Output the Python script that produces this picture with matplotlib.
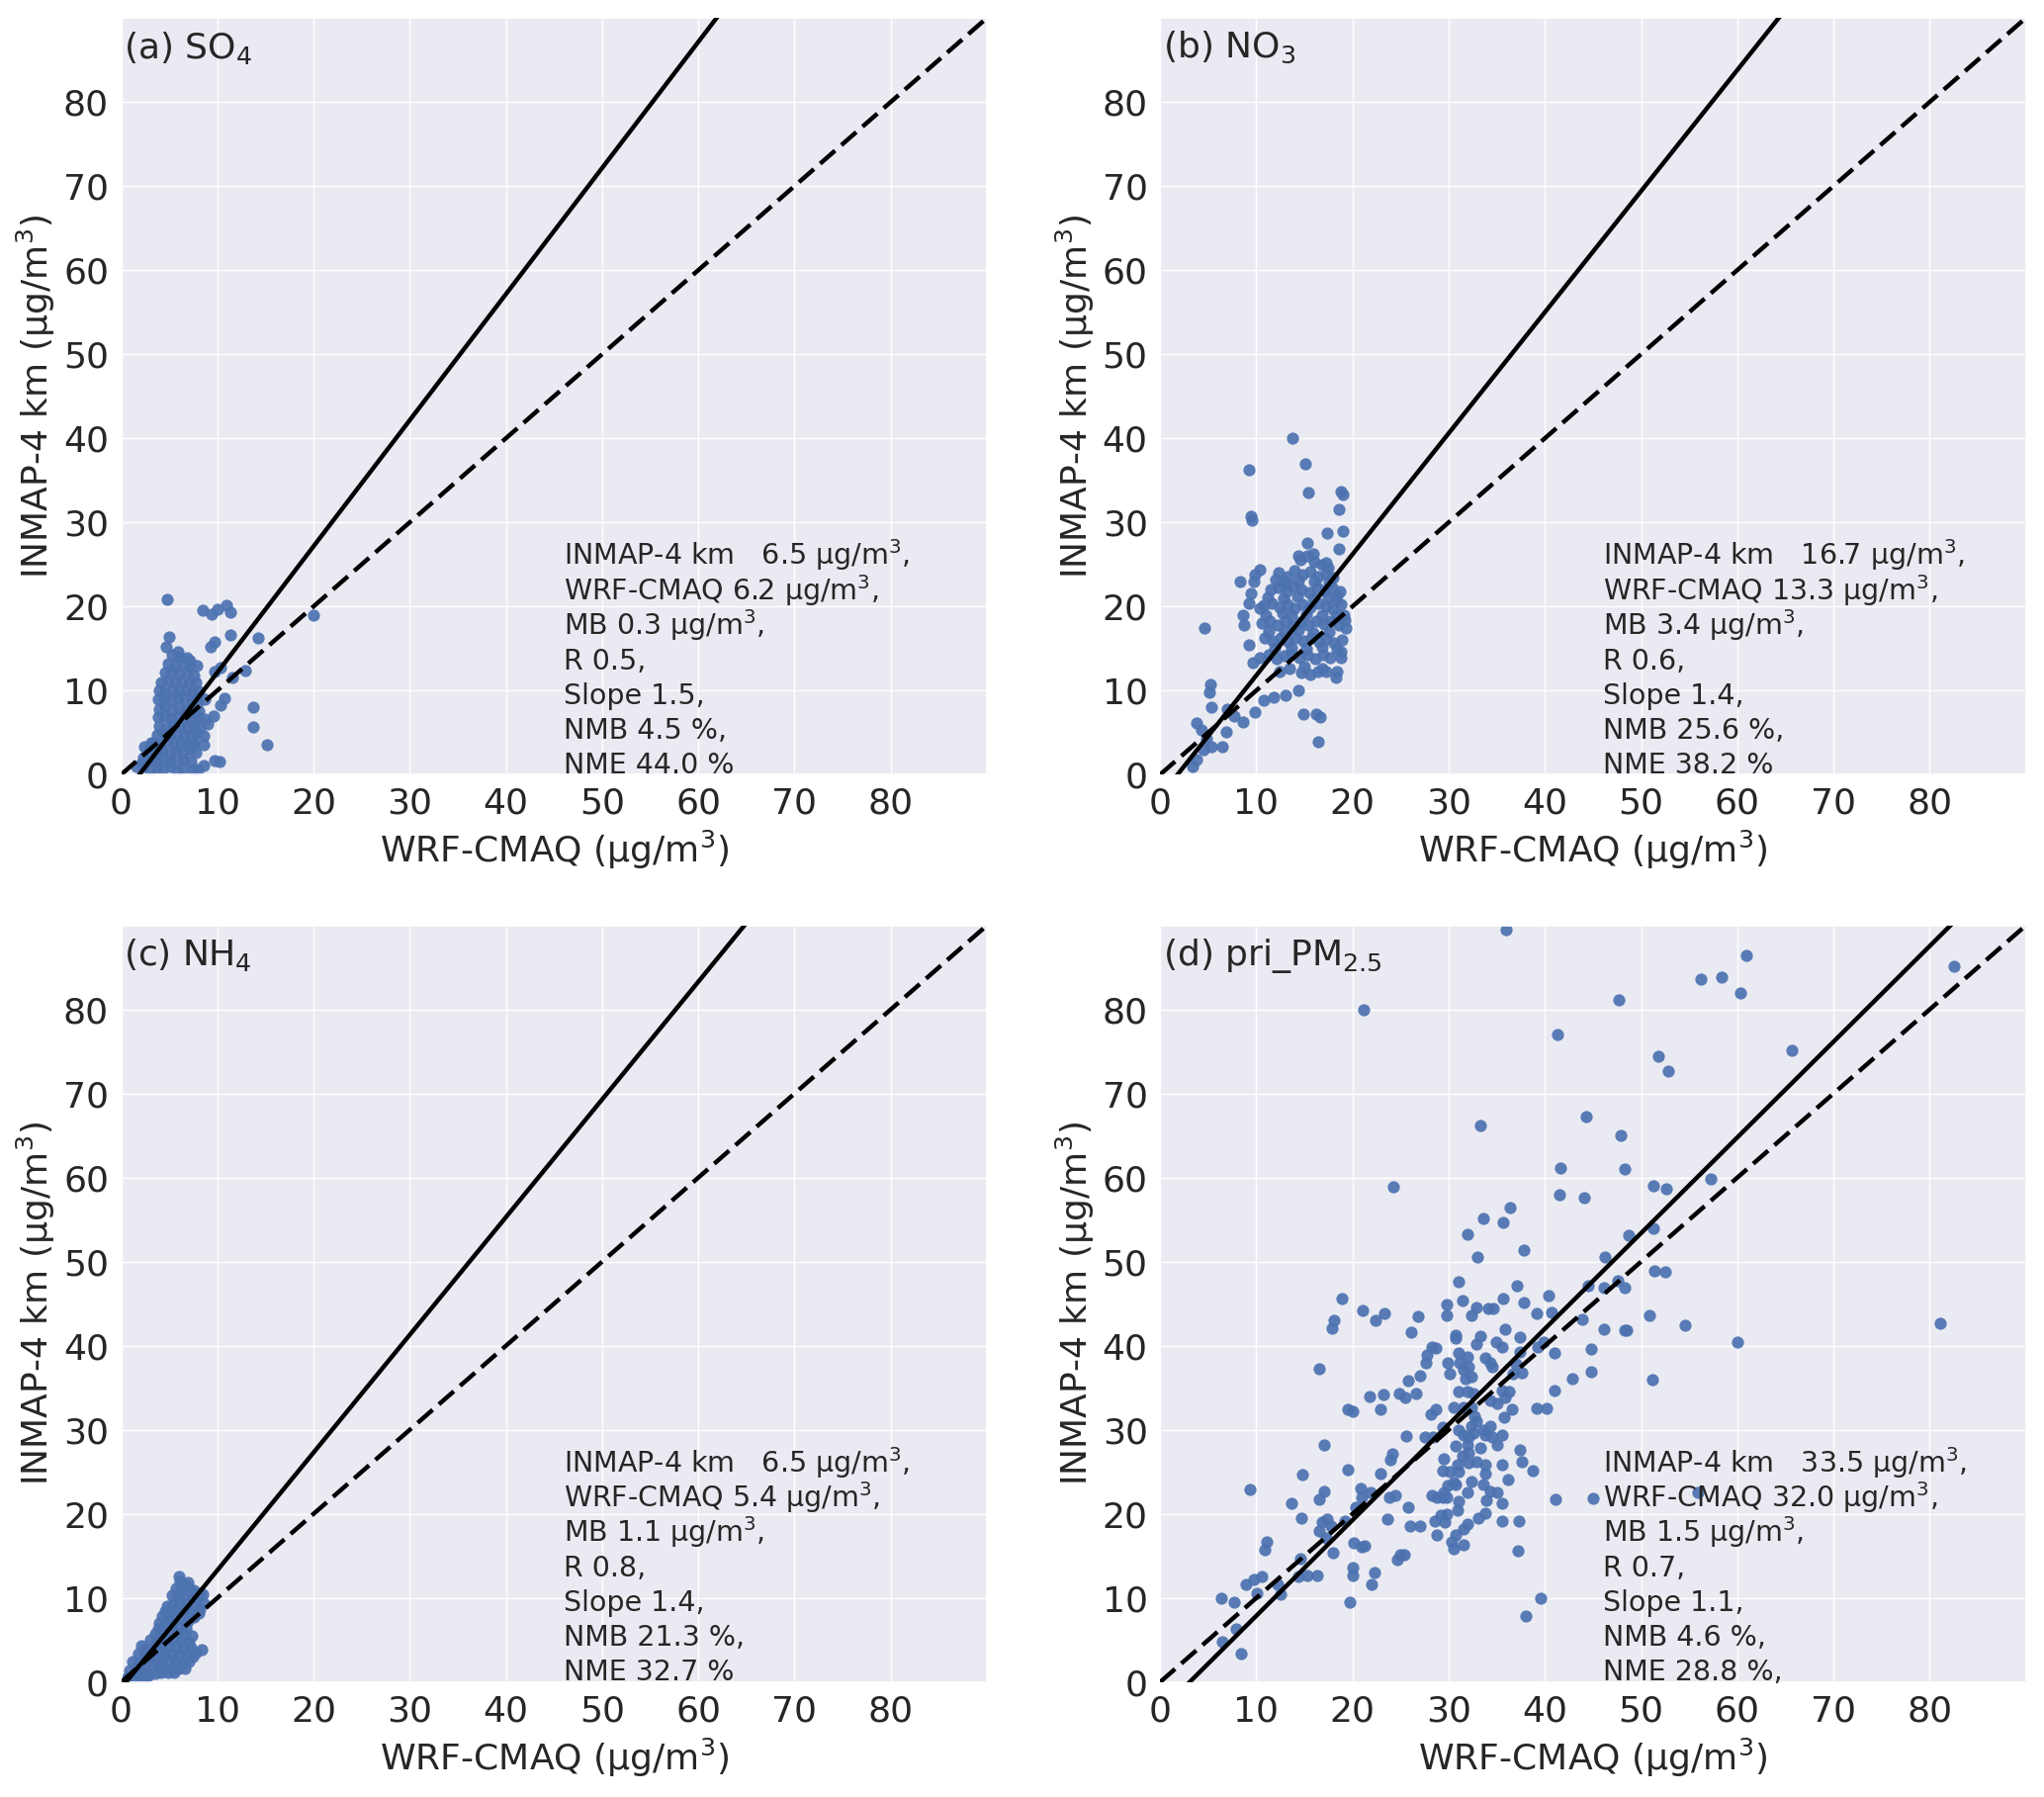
import matplotlib
matplotlib.use("Agg")
import matplotlib.pyplot as plt
import seaborn as sns

# ---------------- data ----------------
panel_titles = ["(a) SO$_4$", "(b) NO$_3$", "(c) NH$_4$", "(d) pri_PM$_{2.5}$"]
xlabel = "WRF-CMAQ (µg/m$^3$)"
ylabel = "INMAP-4 km (µg/m$^3$)"
ticks = [0, 10, 20, 30, 40, 50, 60, 70, 80]

# fitted regression lines (slope, intercept)
fit_slope = [1.50, 1.44, 1.40, 1.138]
fit_intercept = [-2.85, -2.6, -0.7, -3.5]

# statistics
inmap_mean = ["6.5", "16.7", "6.5", "33.5"]
cmaq_mean = ["6.2", "13.3", "5.4", "32.0"]
mb_vals = ["0.3", "3.4", "1.1", "1.5"]
r_vals = ["0.5", "0.6", "0.8", "0.7"]
slope_txt = ["1.5", "1.4", "1.4", "1.1"]
nmb_vals = ["4.5", "25.6", "21.3", "4.6"]
nme_vals = ["44.0", "38.2", "32.7", "28.8"]
nme_tail = ["", "", "", ","]

so4_pts = [
    (4.8, 20.8), (8.5, 19.5), (9.4, 19.1), (10.0, 19.7), (10.9, 20.1), (11.4, 19.3), (20.0, 18.9),
    (5.0, 16.4), (11.4, 16.6), (14.2, 16.2), (9.7, 15.8), (9.3, 15.2), (4.7, 15.2), (5.9, 14.6),
    (7.1, 13.6), (7.9, 12.9), (12.9, 12.4), (10.3, 12.7), (9.7, 12.2), (11.6, 11.5), (10.7, 9.1),
    (10.3, 8.2), (13.7, 8.0), (13.7, 5.7), (15.2, 3.5), (9.6, 7.0), (9.0, 6.0), (8.6, 4.6),
    (8.6, 3.6), (7.6, 3.5), (9.7, 1.7), (10.2, 1.6), (8.6, 1.1), (6.4, 0.7), (7.4, 0.6),
    (2.4, 3.3), (3.1, 3.8), (2.1, 1.3),
    (5.3, 14.3), (6.0, 14.0), (6.8, 13.9),
    (4.9, 13.2), (5.6, 13.0), (6.4, 13.3), (7.1, 12.9),
    (4.6, 12.1), (5.3, 12.3), (6.0, 12.0), (6.8, 12.1), (7.5, 11.8),
    (4.2, 11.0), (4.9, 11.2), (5.6, 10.9), (6.3, 11.1), (7.0, 10.8), (7.8, 10.9),
    (3.9, 10.0), (4.6, 9.8), (5.3, 10.1), (6.0, 9.9), (6.7, 10.0), (7.4, 9.7), (8.1, 9.9),
    (3.8, 8.9), (4.5, 9.0), (5.2, 8.8), (5.9, 9.1), (6.6, 8.9), (7.3, 8.8), (8.0, 8.6), (8.7, 8.9),
    (3.9, 7.8), (4.6, 8.0), (5.3, 7.7), (6.0, 7.9), (6.7, 7.7), (7.4, 7.9), (8.1, 7.6),
    (3.8, 6.8), (4.5, 6.9), (5.2, 6.6), (5.9, 6.8), (6.6, 6.7), (7.3, 6.5), (8.0, 6.8), (8.7, 6.6),
    (4.0, 5.8), (4.7, 5.6), (5.4, 5.9), (6.1, 5.7), (6.8, 5.6), (7.5, 5.8), (8.2, 5.5),
    (3.7, 4.7), (4.4, 4.9), (5.1, 4.6), (5.8, 4.8), (6.5, 4.5), (7.2, 4.7), (7.9, 4.9),
    (3.4, 3.8), (4.1, 3.6), (4.8, 3.9), (5.5, 3.6), (6.2, 3.8), (6.9, 3.5), (7.6, 3.8),
    (2.9, 2.9), (3.6, 2.6), (4.3, 2.8), (5.0, 2.5), (5.7, 2.8), (6.4, 2.6), (7.1, 2.9), (7.8, 2.6),
    (2.3, 2.0), (3.0, 1.8), (3.7, 1.6), (4.4, 1.9), (5.1, 1.7), (5.8, 1.5), (6.5, 1.8), (7.2, 1.6),
    (1.6, 1.0), (2.3, 0.9), (3.0, 0.6), (3.7, 0.8), (4.4, 0.7), (5.1, 0.9), (5.8, 0.5), (8.0, 0.6),
]

no3_pts = [
    (13.8, 40.0), (9.2, 36.3), (15.1, 36.9), (15.4, 33.6), (18.8, 33.7), (19.0, 33.3), (18.6, 31.5),
    (9.4, 30.7), (9.5, 30.2), (17.4, 28.7), (19.0, 28.9), (18.6, 26.8), (15.3, 27.5), (14.4, 26.0),
    (15.9, 26.2), (17.3, 25.2), (10.4, 24.4), (9.8, 23.8), (9.7, 23.0), (8.3, 22.9), (12.0, 23.2),
    (13.0, 22.7), (9.4, 21.5), (9.2, 20.4), (10.4, 19.8), (8.6, 18.9), (8.7, 17.8), (4.6, 17.4),
    (18.4, 21.3), (19.1, 18.9), (19.3, 17.4), (9.2, 15.4), (9.6, 13.3), (10.4, 13.9), (18.8, 14.6),
    (18.8, 13.9), (18.4, 12.3), (18.3, 11.5), (14.7, 12.1), (15.6, 11.9), (16.4, 12.3), (17.3, 12.3),
    (14.4, 10.0), (13.0, 9.4), (11.8, 9.2), (10.8, 8.8), (9.8, 7.4), (14.9, 7.2), (16.2, 7.2),
    (16.6, 6.8), (16.4, 3.9), (5.2, 10.7), (5.1, 9.8), (5.3, 8.0), (7.0, 7.8), (7.7, 7.0), (8.6, 6.3),
    (6.9, 5.1), (3.8, 6.1), (4.3, 5.3), (4.8, 4.3), (5.3, 3.3), (6.5, 3.3), (3.4, 1.0), (3.8, 1.8),
    (4.5, 2.9),
    (14.6, 25.5), (15.3, 26.0), (16.0, 25.3), (16.8, 25.0), (17.5, 24.6),
    (12.3, 24.0), (13.2, 23.5), (14.0, 24.2), (14.8, 23.8), (15.6, 24.1), (16.4, 23.6), (17.2, 23.9), (18.0, 23.4),
    (12.7, 23.0), (14.4, 23.1), (16.0, 22.9), (17.6, 22.8),
    (11.5, 22.0), (12.3, 22.3), (13.1, 21.8), (13.9, 22.4), (14.7, 22.0), (15.5, 21.7), (16.3, 22.2),
    (17.1, 21.9), (17.9, 22.3), (18.7, 21.8),
    (11.2, 21.1), (12.8, 20.9), (14.3, 21.2), (15.9, 20.9), (17.5, 21.1), (18.3, 20.8),
    (10.8, 20.1), (11.6, 20.4), (12.4, 19.9), (13.2, 20.3), (14.0, 19.8), (14.8, 20.2), (15.6, 19.9),
    (16.4, 20.4), (17.2, 20.0), (18.0, 19.7), (18.8, 20.2),
    (11.0, 19.0), (12.7, 19.2), (13.6, 18.9), (15.2, 19.1), (16.8, 18.9), (18.4, 19.0),
    (10.6, 18.0), (11.4, 18.3), (12.2, 17.8), (13.0, 18.2), (13.8, 17.7), (14.6, 18.1), (15.4, 17.8),
    (16.2, 18.3), (17.0, 17.9), (17.8, 18.2), (18.6, 17.8), (19.2, 18.4),
    (11.3, 17.1), (12.9, 16.9), (14.4, 17.2), (15.9, 16.8), (17.6, 17.0),
    (10.9, 16.2), (11.7, 15.9), (12.5, 16.3), (13.3, 15.8), (14.1, 16.2), (14.9, 15.9), (15.7, 16.3),
    (16.5, 15.8), (17.3, 16.1), (18.1, 15.7), (18.9, 16.0),
    (11.9, 15.0), (13.6, 15.1), (15.2, 14.9), (16.8, 15.2), (18.4, 14.9),
    (11.3, 14.2), (12.1, 13.8), (12.9, 14.1), (13.7, 14.4), (14.5, 13.9), (15.3, 14.2), (16.1, 13.8),
    (16.9, 14.3), (17.7, 13.9),
    (12.4, 12.3), (13.4, 12.6), (15.0, 12.8), (16.8, 12.6),
]

nh4_pts = [
    (6.0, 12.5), (6.1, 12.0), (6.5, 11.6), (6.9, 11.8), (5.7, 11.2), (6.3, 11.0), (7.0, 11.2), (7.6, 10.9),
    (8.2, 10.6), (8.5, 10.4), (5.3, 10.3), (5.9, 10.2), (6.6, 10.4), (7.3, 10.2), (8.0, 9.8), (8.6, 9.4),
    (4.8, 9.0), (5.4, 9.3), (6.1, 9.5), (6.8, 9.3), (7.5, 9.0), (8.2, 8.7), (4.6, 8.4), (5.1, 8.5),
    (5.8, 8.7), (6.5, 8.6), (7.2, 8.2), (8.1, 8.2), (4.3, 7.8), (4.9, 7.6), (5.6, 7.9), (6.2, 7.5),
    (6.9, 7.3), (7.6, 7.7), (4.0, 7.0), (4.6, 6.9), (5.3, 6.8), (6.0, 6.6), (6.7, 6.4), (3.8, 6.3),
    (4.4, 6.1), (5.1, 6.0), (5.8, 5.8), (6.5, 5.6), (7.3, 5.5), (3.5, 5.7), (4.1, 5.4), (4.8, 5.2),
    (5.5, 5.0), (6.2, 4.9), (7.0, 4.7), (3.0, 5.0), (3.6, 4.7), (4.3, 4.5), (5.0, 4.3), (5.7, 4.2),
    (6.4, 4.0), (7.2, 4.1), (7.8, 3.5), (8.4, 3.8), (2.1, 4.3), (2.6, 4.0), (3.2, 3.8), (3.9, 3.6),
    (4.6, 3.4), (5.3, 3.3), (6.0, 3.1), (6.7, 3.1), (7.4, 3.0), (1.8, 3.4), (2.4, 3.1), (3.0, 2.9),
    (3.6, 2.7), (4.3, 2.6), (5.0, 2.4), (5.7, 2.3), (6.4, 2.2), (7.0, 2.4), (1.2, 2.4), (1.8, 2.2),
    (2.5, 2.0), (3.2, 1.9), (3.9, 1.8), (4.6, 1.6), (5.3, 1.5), (6.0, 1.6), (6.6, 1.6), (0.9, 1.4),
    (1.5, 1.3), (2.2, 1.1), (2.8, 0.8), (3.5, 1.0), (4.2, 1.1), (4.9, 1.2), (5.5, 1.2), (0.7, 0.6),
    (1.3, 0.5), (1.8, 0.8), (2.4, 0.4),
]

pm_pts = [
    (6.4, 10.0), (7.7, 9.5), (7.9, 6.3), (6.5, 4.8), (8.4, 3.4), (8.9, 11.6), (9.7, 12.2), (10.6, 12.5),
    (10.1, 10.6), (12.2, 11.6), (12.5, 10.4), (10.9, 15.7), (11.1, 16.7), (9.3, 22.9), (13.6, 21.3),
    (14.7, 19.5), (14.8, 24.7), (14.6, 14.7), (14.4, 12.5), (15.3, 12.7), (16.3, 12.7), (16.5, 18.0),
    (16.8, 19.0), (17.4, 19.4), (17.8, 18.6), (17.2, 17.1), (16.5, 21.7), (17.0, 22.7), (18.0, 15.4),
    (16.5, 37.3), (17.0, 28.2), (17.9, 42.1), (18.1, 43.0), (18.9, 45.6), (19.2, 19.1), (19.5, 25.3),
    (19.5, 32.4), (20.0, 32.2), (19.7, 9.5), (20.0, 13.6), (20.0, 12.7), (20.1, 16.5), (20.9, 16.1),
    (21.3, 16.2), (20.3, 20.8), (20.8, 23.0), (20.9, 22.0), (21.1, 44.2), (21.8, 34.0), (22.0, 11.6),
    (22.3, 13.0), (21.9, 22.5), (22.4, 43.0), (23.3, 43.8), (22.9, 32.4), (23.2, 34.2), (22.9, 24.8),
    (23.6, 19.4), (23.8, 22.0), (23.9, 26.4), (24.1, 27.2), (24.4, 22.2), (24.7, 14.5), (25.0, 15.1),
    (25.4, 15.1), (24.9, 34.3), (25.5, 33.9), (25.8, 35.9), (25.6, 29.3), (25.8, 20.8), (26.0, 18.5),
    (27.0, 18.5), (26.1, 41.6), (26.6, 34.3), (26.8, 43.5), (27.0, 36.4), (27.5, 29.1), (27.6, 38.0),
    (27.7, 38.9), (28.2, 39.8), (28.7, 39.7), (28.1, 31.8), (28.7, 32.4), (28.4, 29.1), (28.2, 22.2),
    (28.8, 22.0), (28.8, 17.5), (28.6, 19.2), (29.2, 19.8), (29.6, 19.0), (29.8, 20.0), (29.4, 22.0),
    (29.8, 22.0), (29.5, 22.6), (29.9, 23.4), (30.7, 23.5), (29.5, 26.5), (29.4, 25.2), (30.1, 25.0),
    (29.4, 30.3), (29.8, 44.9), (29.8, 43.6), (30.7, 41.3), (30.7, 40.9), (31.0, 47.6), (31.4, 45.4),
    (29.9, 38.0), (30.1, 36.7), (31.0, 39.2), (31.1, 38.0), (31.9, 38.7), (31.5, 37.1), (32.1, 37.5),
    (31.7, 36.1), (32.4, 36.3), (31.0, 34.6), (31.9, 34.6), (32.6, 34.3), (30.5, 32.7), (31.5, 32.7),
    (32.4, 32.7), (32.7, 31.6), (32.9, 31.0), (32.4, 30.4), (31.0, 30.0), (31.5, 29.4), (32.1, 29.2),
    (32.6, 29.6), (33.6, 30.0), (34.3, 30.4), (33.8, 29.4), (34.5, 29.2), (35.5, 29.4), (30.7, 28.1),
    (31.9, 28.2), (33.3, 27.9), (35.0, 28.2), (31.4, 26.9), (32.1, 27.3), (32.1, 26.1), (32.9, 26.2),
    (33.8, 25.8), (33.8, 24.8), (35.6, 25.9), (36.2, 24.1), (30.9, 25.9), (31.0, 25.0), (30.5, 23.7),
    (32.4, 23.9), (31.9, 22.5), (33.6, 23.5), (34.3, 22.7), (35.0, 22.5), (33.9, 21.6), (35.6, 21.3),
    (31.0, 21.5), (30.9, 20.4), (33.8, 20.1), (33.1, 19.5), (31.9, 18.8), (31.5, 18.2), (35.5, 19.1),
    (37.3, 19.2), (30.7, 17.5), (30.3, 16.7), (30.5, 15.9), (31.5, 16.3), (37.2, 15.6), (39.6, 10.0),
    (38.0, 7.9), (37.4, 27.6), (37.6, 26.2), (38.7, 25.2), (35.8, 31.5), (36.6, 32.4), (35.0, 33.1),
    (35.9, 33.9), (36.3, 34.6), (35.5, 34.7), (34.3, 33.5), (34.5, 37.5), (34.3, 38.0), (33.8, 38.6),
    (34.9, 40.4), (35.6, 39.9), (33.3, 41.1), (32.9, 40.2), (35.9, 42.0), (37.4, 41.0), (37.4, 39.3),
    (37.6, 36.8), (37.0, 37.8), (36.7, 36.7), (32.4, 43.6), (32.9, 44.6), (34.1, 44.4), (34.6, 44.4),
    (35.7, 45.6), (37.1, 47.1), (37.8, 45.1), (39.1, 43.9), (40.4, 46.0), (40.7, 44.0), (41.0, 39.2),
    (41.0, 34.7), (39.1, 32.5), (40.2, 32.6), (39.9, 40.4), (39.2, 39.8), (41.1, 21.7), (45.0, 21.8),
    (42.9, 36.1), (44.8, 36.9), (44.8, 39.6), (46.1, 42.0), (43.9, 43.2), (44.5, 47.1), (46.1, 46.9),
    (47.6, 47.7), (48.3, 46.9), (48.3, 41.8), (48.5, 41.9), (50.9, 43.6), (51.2, 36.0), (51.4, 48.9),
    (36.0, 89.5), (21.2, 80.0), (47.7, 81.1), (56.2, 83.6), (58.4, 83.8), (60.3, 82.0), (60.9, 86.5),
    (82.5, 85.1), (65.7, 75.2), (51.8, 74.4), (52.8, 72.7), (41.3, 77.0), (33.3, 66.2), (44.3, 67.3),
    (47.9, 65.0), (48.3, 61.0), (41.6, 61.2), (41.5, 58.0), (44.1, 57.6), (24.2, 58.9), (51.3, 59.0),
    (52.6, 58.7), (57.2, 59.8), (36.4, 56.4), (35.7, 54.7), (33.6, 55.2), (32.0, 53.3), (33.0, 50.5),
    (37.8, 51.4), (48.7, 53.2), (51.3, 54.0), (46.2, 50.6), (52.5, 48.8), (81.1, 42.7), (54.6, 42.4),
    (60.0, 40.4), (55.9, 22.6),
]

all_pts = [so4_pts, no3_pts, nh4_pts, pm_pts]

# ---------------- figure ----------------
sns.set_theme(style="darkgrid")
plt.rcParams['font.family'] = ['DejaVu Sans']

fig = plt.figure(figsize=(20.67, 18.17), dpi=100)
lefts = [0.0593, 0.5676, 0.0593, 0.5676]
bottoms = [0.569, 0.569, 0.064, 0.064]
W, H = 0.4235, 0.421

for i in range(4):
    ax = fig.add_axes([lefts[i], bottoms[i], W, H])
    xs = [p[0] for p in all_pts[i]]
    ys = [p[1] for p in all_pts[i]]
    ax.scatter(xs, ys, s=78, color="#4C72B0", alpha=0.92, linewidths=0, zorder=2)
    lx = [0, 90]
    ax.plot(lx, [fit_slope[i] * v + fit_intercept[i] for v in lx], color="black", lw=3.2, zorder=3)
    ax.plot(lx, lx, color="black", lw=3.2, ls=(0, (4.5, 1.9)), zorder=3)
    ax.set_xlim(0, 90)
    ax.set_ylim(0, 90)
    ax.set_xticks(ticks)
    ax.set_yticks(ticks)
    ax.tick_params(labelsize=26, pad=3)
    ax.set_xlabel(xlabel, fontsize=26, labelpad=6)
    ax.set_ylabel(ylabel, fontsize=26, labelpad=4)
    ax.text(0.003, 0.985, panel_titles[i], transform=ax.transAxes, fontsize=26,
            va="top", ha="left", color="#262626")
    lines = [f"INMAP-4 km   {inmap_mean[i]} µg/m$^3$,",
             f"WRF-CMAQ {cmaq_mean[i]} µg/m$^3$,",
             f"MB {mb_vals[i]} µg/m$^3$,",
             f"R {r_vals[i]},",
             f"Slope {slope_txt[i]},",
             f"NMB {nmb_vals[i]} %,",
             f"NME {nme_vals[i]} %{nme_tail[i]}"]
    for k, line in enumerate(lines):
        ax.text(46.0, 24.9 - 4.12 * k, line, fontsize=20.5, va="baseline", ha="left",
                color="#262626", zorder=4)

fig.savefig("out.png", dpi=100)
